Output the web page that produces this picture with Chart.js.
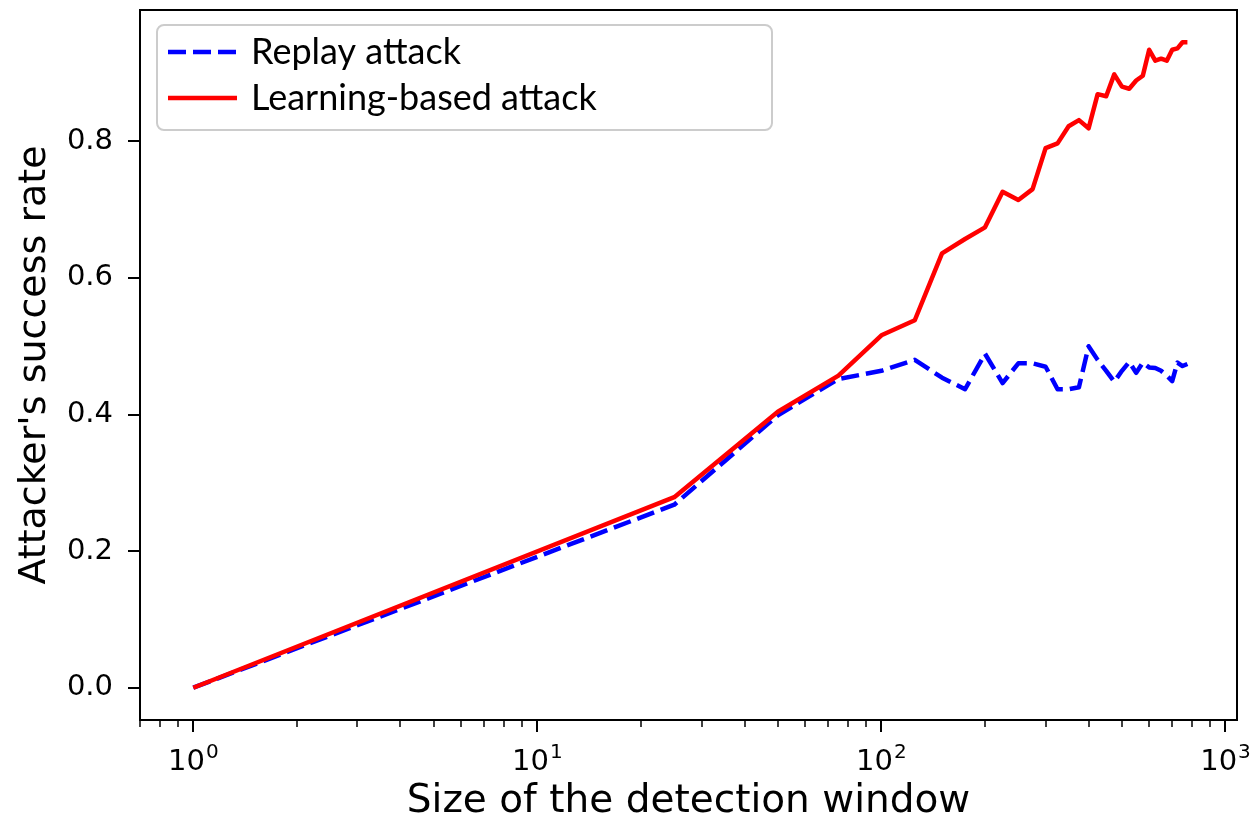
<!DOCTYPE html>
<html>
<head>
<meta charset="utf-8">
<title>Attacker's success rate vs detection window</title>
<script src="https://cdn.jsdelivr.net/npm/chart.js@4.4.1/dist/chart.umd.min.js"></script>
<style>
  html, body { margin: 0; padding: 0; background: #ffffff; }
  canvas { display: block; }
</style>
</head>
<body>
<canvas id="chart" width="1255" height="825"></canvas>
<script>
// ================= DATA =================
const windowSizes = [1, 25, 50, 75, 100, 125, 150, 175, 200, 225, 250, 275, 300, 325, 350, 375,
  400, 425, 450, 475, 500, 525, 550, 575, 600, 625, 650, 675, 700, 725, 750, 775];

const replaySuccess = [0, 0.268, 0.399, 0.452, 0.464, 0.480, 0.454, 0.437, 0.489, 0.446, 0.475, 0.475,
  0.470, 0.437, 0.437, 0.440, 0.500, 0.480, 0.464, 0.448, 0.464, 0.477, 0.461, 0.476,
  0.469, 0.468, 0.464, 0.457, 0.449, 0.476, 0.471, 0.474];

const learningSuccess = [0, 0.279, 0.404, 0.457, 0.516, 0.538, 0.636, 0.657, 0.674, 0.726, 0.714, 0.730,
  0.790, 0.797, 0.822, 0.831, 0.819, 0.869, 0.866, 0.898, 0.880, 0.877, 0.889, 0.896,
  0.934, 0.918, 0.921, 0.918, 0.934, 0.936, 0.945, 0.945];

const yTicks = [0, 0.2, 0.4, 0.6, 0.8];
const xDecades = [1, 10, 100, 1000];
const xDecadeExponents = ["0", "1", "2", "3"];
const legendLabels = ["Replay attack", "Learning-based attack"];

const BLUE = "#0000ff";
const RED = "#ff0000";
const DASH = [18, 7];

// ================= FRAME, X TICKS & LEGEND =================
const framePlugin = {
  id: "frame",
  afterDraw(chart) {
    const ctx = chart.ctx;
    const area = chart.chartArea;
    const xScale = chart.scales.x;

    ctx.save();
    ctx.strokeStyle = "#000";
    ctx.lineWidth = 2;
    ctx.strokeRect(area.left, area.top, area.right - area.left, area.bottom - area.top);

    // major + minor ticks on the log axis
    xScale.ticks.forEach(t => {
      const px = Math.round(xScale.getPixelForValue(t.value));
      const lg = Math.log10(t.value);
      const major = Math.abs(lg - Math.round(lg)) < 1e-9;
      ctx.lineWidth = major ? 2 : 1.5;
      ctx.beginPath();
      ctx.moveTo(px, area.bottom);
      ctx.lineTo(px, area.bottom + (major ? 12 : 7));
      ctx.stroke();
    });

    // 10^n labels
    ctx.fillStyle = "#000";
    ctx.textBaseline = "alphabetic";
    ctx.textAlign = "left";
    xDecades.forEach((v, i) => {
      const px = xScale.getPixelForValue(v);
      ctx.font = "29px 'DejaVu Sans'";
      const baseW = ctx.measureText("10").width;
      ctx.font = "20px 'DejaVu Sans'";
      const supW = ctx.measureText(xDecadeExponents[i]).width;
      const left = px - (baseW + supW + 1) / 2;
      ctx.font = "29px 'DejaVu Sans'";
      ctx.fillText("10", left, area.bottom + 50);
      ctx.font = "20px 'DejaVu Sans'";
      ctx.fillText(xDecadeExponents[i], left + baseW + 1, area.bottom + 38);
    });

    // legend box
    const bx = area.left + 17, by = area.top + 15, bw = 615, bh = 105, r = 7;
    ctx.beginPath();
    ctx.moveTo(bx + r, by);
    ctx.arcTo(bx + bw, by, bx + bw, by + bh, r);
    ctx.arcTo(bx + bw, by + bh, bx, by + bh, r);
    ctx.arcTo(bx, by + bh, bx, by, r);
    ctx.arcTo(bx, by, bx + bw, by, r);
    ctx.closePath();
    ctx.fillStyle = "rgba(255,255,255,0.8)";
    ctx.fill();
    ctx.strokeStyle = "#cccccc";
    ctx.lineWidth = 2;
    ctx.stroke();

    const rows = [
      { label: legendLabels[0], color: BLUE, dash: DASH, y: by + 27 },
      { label: legendLabels[1], color: RED, dash: [], y: by + 73 }
    ];
    rows.forEach(row => {
      ctx.strokeStyle = row.color;
      ctx.lineWidth = 4.5;
      ctx.setLineDash(row.dash);
      ctx.beginPath();
      ctx.moveTo(bx + 11, row.y);
      ctx.lineTo(bx + 80, row.y);
      ctx.stroke();
      ctx.setLineDash([]);
      ctx.fillStyle = "#000";
      ctx.font = "36px Lato";
      ctx.textBaseline = "middle";
      ctx.fillText(row.label, bx + 94, row.y);
    });
    ctx.restore();
  }
};

// ================= CHART =================
const ctx = document.getElementById("chart").getContext("2d");

new Chart(ctx, {
  type: "line",
  data: {
    datasets: [
      {
        label: legendLabels[0],
        data: windowSizes.map((w, i) => ({ x: w, y: replaySuccess[i] })),
        borderColor: BLUE,
        borderWidth: 4.5,
        borderDash: DASH,
        borderJoinStyle: "round",
        pointRadius: 0,
        tension: 0,
        order: 1
      },
      {
        label: legendLabels[1],
        data: windowSizes.map((w, i) => ({ x: w, y: learningSuccess[i] })),
        borderColor: RED,
        borderWidth: 4.5,
        borderJoinStyle: "round",
        pointRadius: 0,
        tension: 0,
        order: 0
      }
    ]
  },
  options: {
    responsive: false,
    animation: false,
    layout: { padding: { left: 0, top: 10, right: 18, bottom: 0 } },
    plugins: {
      legend: { display: false },
      tooltip: { enabled: false }
    },
    scales: {
      x: {
        type: "logarithmic",
        min: 0.715,
        max: 1080,
        afterBuildTicks: scale => {
          const ticks = [];
          [0.1, 1, 10, 100].forEach(d => {
            for (let m = 1; m < 10; m++) {
              const v = +(m * d).toPrecision(6);
              if (v >= scale.min && v <= scale.max) ticks.push({ value: v });
            }
          });
          if (1000 <= scale.max) ticks.push({ value: 1000 });
          scale.ticks = ticks;
        },
        afterFit: scale => {
          scale.height = 105;
          scale.paddingLeft = 0;
          scale.paddingRight = 0;
        },
        grid: { display: false },
        border: { display: false },
        ticks: { callback: () => "", autoSkip: false },
        title: {
          display: true,
          text: "Size of the detection window",
          color: "#000",
          font: { family: "'DejaVu Sans'", size: 39 },
          padding: { top: 0, bottom: 0 }
        }
      },
      y: {
        min: -0.04725,
        max: 0.99225,
        afterBuildTicks: scale => {
          scale.ticks = yTicks.map(v => ({ value: v }));
        },
        afterFit: scale => {
          scale.width = 140;
          scale.paddingTop = 0;
          scale.paddingBottom = 0;
        },
        grid: {
          display: true,
          drawOnChartArea: false,
          drawTicks: true,
          tickLength: 12,
          color: "#000",
          lineWidth: 2
        },
        border: { display: false },
        ticks: {
          color: "#000",
          font: { family: "'DejaVu Sans'", size: 29 },
          padding: 15,
          callback: v => v.toFixed(1)
        },
        title: {
          display: true,
          text: "Attacker's success rate",
          color: "#000",
          font: { family: "'DejaVu Sans'", size: 38 },
          padding: { top: 12, bottom: 0 }
        }
      }
    }
  },
  plugins: [framePlugin]
});
</script>
</body>
</html>
